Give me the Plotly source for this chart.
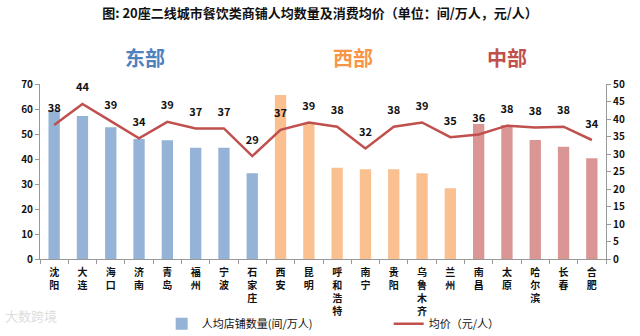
import plotly.graph_objects as go

cities = ["沈阳", "大连", "海口", "济南", "青岛", "福州", "宁波", "石家庄",
          "西安", "昆明", "呼和浩特", "南宁", "贵阳", "乌鲁木齐", "兰州",
          "南昌", "太原", "哈尔滨", "长春", "合肥"]
regions = ["东部"] * 8 + ["西部"] * 7 + ["中部"] * 5
shops_per_10k = [59.5, 57.2, 52.7, 48.0, 47.5, 44.5, 44.5, 34.3,
                 65.6, 54.3, 36.5, 35.9, 35.9, 34.3, 28.3,
                 54.0, 53.6, 47.6, 44.9, 40.3]
avg_price = [38.3, 44.3, 39.4, 34.5, 39.2, 37.3, 37.3, 29.4,
             36.9, 39.0, 37.8, 31.6, 37.8, 39.0, 34.8,
             35.6, 38.1, 37.6, 37.8, 34.0]
price_labels = ["38", "44", "39", "34", "39", "37", "37", "29",
                "37", "39", "38", "32", "38", "39", "35",
                "36", "38", "38", "38", "34"]
left_ticks = [0, 10, 20, 30, 40, 50, 60, 70]
right_ticks = [0, 5, 10, 15, 20, 25, 30, 35, 40, 45, 50]
region_headers = [("东部", 3.2), ("西部", 10.55), ("中部", 16.0)]

bar_colors = {"东部": "#95B3D7", "西部": "#FAC090", "中部": "#D99694"}
region_colors = {"东部": "#4F81BD", "西部": "#F79646", "中部": "#C0504D"}

FONT = "Noto Sans CJK SC"
tick_text = ["<br>".join(list(c)) for c in cities]

fig = go.Figure()
fig.add_trace(go.Bar(
    x=cities, y=shops_per_10k, name="人均店铺数量(间/万人)",
    marker=dict(color=[bar_colors[r] for r in regions], line=dict(width=0)),
    width=0.4, yaxis="y",
))
fig.add_trace(go.Scatter(
    x=cities, y=avg_price, name="均价（元/人）", mode="lines+markers+text",
    line=dict(color="#C0504D", width=2.5),
    marker=dict(size=14, color="rgba(0,0,0,0)"),
    text=price_labels, textposition="top center",
    textfont=dict(family=FONT, size=11, color="#111111", weight="bold"),
    yaxis="y2", cliponaxis=False,
))

for reg, xpos in region_headers:
    fig.add_annotation(x=xpos, y=1.15, xref="x", yref="paper", yanchor="middle",
                       text=f"<b>{reg}</b>", showarrow=False,
                       font=dict(family=FONT, size=20, color=region_colors[reg]))

fig.add_annotation(x=-0.065, y=-0.32, xref="paper", yref="paper", xanchor="left",
                   yanchor="middle", text="大数跨境", showarrow=False,
                   font=dict(family=FONT, size=13, color="#DDDDDD"))

fig.update_layout(
    width=640, height=336,
    margin=dict(l=40, r=34, t=84, b=77, autoexpand=False),
    paper_bgcolor="white", plot_bgcolor="white",
    font=dict(family=FONT, size=11, color="#111111"),
    title=dict(text="<b>图: 20座二线城市餐饮类商铺人均数量及消费均价（单位：间/万人，元/人）</b>",
               x=0.5, xanchor="center", y=0.96, yanchor="middle",
               font=dict(family=FONT, size=13, color="#111111")),
    showlegend=True,
    legend=dict(orientation="h", x=0.215, xanchor="left", y=-0.37, yanchor="middle",
                font=dict(family=FONT, size=11, color="#111111"),
                entrywidth=182, entrywidthmode="pixels",
                tracegroupgap=0, bgcolor="rgba(0,0,0,0)"),
    bargap=0.6,
    xaxis=dict(
        tickmode="array", tickvals=cities, ticktext=tick_text,
        tickangle=0, tickfont=dict(family=FONT, size=10, color="#111111", weight="bold"),
        showline=True, linecolor="#999999", linewidth=1,
        ticks="outside", tickson="boundaries", ticklen=4, tickcolor="#999999",
        ticklabelstandoff=4, automargin=False,
        showgrid=False, range=[-0.5, 19.5],
    ),
    yaxis=dict(
        range=[0, 70], tickvals=left_ticks, showgrid=False,
        showline=True, linecolor="#999999", linewidth=1,
        ticks="outside", ticklen=4, tickcolor="#999999",
        tickfont=dict(family=FONT, size=10, color="#111111", weight="bold"),
        zeroline=False, automargin=False,
    ),
    yaxis2=dict(
        range=[0, 50], tickvals=right_ticks, overlaying="y", side="right",
        showgrid=False, showline=True, linecolor="#999999", linewidth=1,
        ticks="outside", ticklen=4, tickcolor="#999999",
        tickfont=dict(family=FONT, size=10, color="#111111", weight="bold"),
        zeroline=False, automargin=False,
    ),
)

fig.write_html("out.html")
